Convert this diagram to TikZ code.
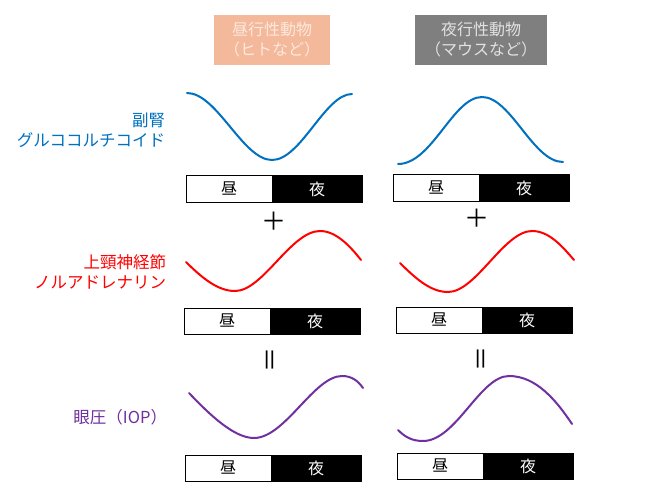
\documentclass[tikz,border=0pt]{standalone}
\usepackage{fontspec}
\setmainfont{Noto Sans CJK JP}
\newcommand*{\jpfont}{\fontsize{16}{20}\selectfont}
\definecolor{dayanimal}{HTML}{F4B89A}
\definecolor{nightanimal}{HTML}{7F7F7F}
\definecolor{dayanimaltext}{HTML}{FCE9DF}
\definecolor{nightanimaltext}{HTML}{E2E2E2}
\definecolor{adrenal}{HTML}{0070C0}
\definecolor{scg}{HTML}{FF0000}
\definecolor{iop}{HTML}{7030A0}
\usepackage{tikz}
\usetikzlibrary{positioning}
\tikzstyle{base}=[x=1pt, y=-1pt, inner sep=0pt, outer sep=0pt]
\tikzstyle{header}=[minimum height=50pt, align=center, font=\jpfont]
\tikzstyle{label}=[anchor=east, align=right, font=\fontsize{16.5}{20}\selectfont]
\tikzstyle{daybox}=[draw=black, line width=1pt, fill=white, minimum width=86pt, minimum height=26pt, anchor=north west, font=\jpfont]
\tikzstyle{nightbox}=[draw=black, line width=1pt, fill=black, text=white, minimum width=90pt, minimum height=26pt, anchor=north west, font=\jpfont]
\tikzstyle{curve}=[line width=2pt, line cap=round]
\tikzstyle{sign}=[font=\fontsize{25}{25}\selectfont]

\begin{document}
\begin{tikzpicture}[base]
    \path [use as bounding box] (0,0) rectangle (650,497);
    % headers
    \node [header, fill=dayanimal, text=dayanimaltext, minimum width=116pt] (diurnal) at (272,40) {昼行性動物\\（ヒトなど）};
    \node [header, fill=nightanimal, text=nightanimaltext, minimum width=132pt] (nocturnal) at (481,40) {夜行性動物\\（マウスなど）};
    % row labels
    \node [label, text=adrenal] (cort) at (165,130) {副腎\\グルココルチコイド};
    \node [label, text=scg] (nora) at (166,272) {上頸神経節\\ノルアドレナリン};
    \node [label, text=iop] (pressure) at (167,417) {眼圧（IOP）};
    % glucocorticoid
    \draw [curve, adrenal] (187,93) .. controls (217,93) and (243,160) .. (272,160) .. controls (301,160) and (325,94) .. (352,94);
    \draw [curve, adrenal] (398,164) .. controls (432,164) and (453,97) .. (482,97) .. controls (511,97) and (533,162) .. (563,162);
    \node [daybox] (dayA) at (186,176) {昼};
    \node [nightbox] (nightA) at (dayA.north east) {夜};
    \node [daybox] (dayB) at (393,175) {昼};
    \node [nightbox] (nightB) at (dayB.north east) {夜};
    \node [sign] (plusA) at (274,221) {＋};
    \node [sign] (plusB) at (477,218) {＋};
    % noradrenaline
    \draw [curve, scg] (186,262) .. controls (204,280) and (219,291) .. (235,291) .. controls (263,291) and (291,231) .. (320,231) .. controls (336,231) and (350,246) .. (361,260);
    \draw [curve, scg] (400,263) .. controls (418,281) and (432,292) .. (448,292) .. controls (476,292) and (504,231) .. (532,231) .. controls (549,231) and (562,246) .. (574,260);
    \node [daybox] (dayC) at (184,308) {昼};
    \node [nightbox] (nightC) at (dayC.north east) {夜};
    \node [daybox] (dayD) at (396,307) {昼};
    \node [nightbox] (nightD) at (dayD.north east) {夜};
    \node [sign, rotate=90] (equalA) at (273,360) {＝};
    \node [sign, rotate=90] (equalB) at (484,359) {＝};
    % intraocular pressure
    \draw [curve, iop] (189,393) .. controls (210,415) and (234,438) .. (254,438) .. controls (285,438) and (314,376) .. (342,376) .. controls (352,376) and (358,381) .. (363,388);
    \draw [curve, iop] (398,430) .. controls (405,437) and (412,441) .. (423,441) .. controls (456,441) and (480,376) .. (509,376) .. controls (536,376) and (556,400) .. (572,424);
    \node [daybox] (dayE) at (185,455) {昼};
    \node [nightbox] (nightE) at (dayE.north east) {夜};
    \node [daybox] (dayF) at (397,453) {昼};
    \node [nightbox] (nightF) at (dayF.north east) {夜};
\end{tikzpicture}
\end{document}
